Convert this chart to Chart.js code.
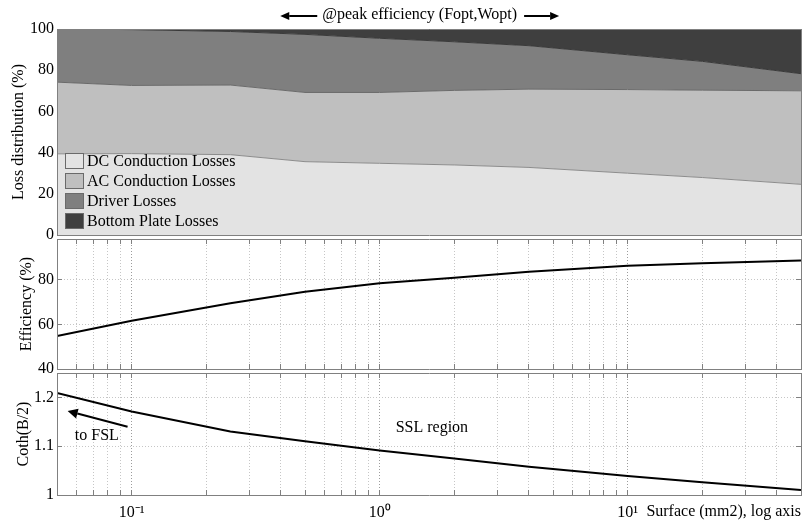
<!DOCTYPE html>
<html lang="en">
<head>
<meta charset="UTF-8">
<title>Loss distribution, efficiency and Coth(B/2) vs surface</title>
<script src="https://cdn.jsdelivr.net/npm/chart.js"></script>
<style>
  body { margin: 0; background: #fff; }
  #wrap { position: relative; width: 805px; height: 521px; }
  #wrap canvas { position: absolute; left: 0; }
</style>
</head>
<body>
<div id="wrap">
  <canvas id="lossChart" style="top:0" width="805" height="250"></canvas>
  <canvas id="effChart" style="top:225px" width="805" height="160"></canvas>
  <canvas id="cothChart" style="top:360px" width="805" height="161"></canvas>
</div>
<script>
// surface (mm2) at each operating point, log axis
const surface = [0.05, 0.1, 0.25, 0.5, 1, 2, 4, 10, 20, 50];

// loss distribution (%), stacked from the bottom
const dcLoss     = [39.4, 39.5, 39.0, 35.6, 34.8, 34.0, 32.8, 30.0, 27.9, 24.6];
const acLoss     = [34.8, 33.1, 33.8, 33.6, 34.4, 36.2, 38.0, 40.6, 42.4, 45.4];
const driverLoss = [25.8, 27.1, 26.0, 28.2, 26.3, 23.6, 21.1, 16.9, 14.0, 8.3];
const plateLoss  = [0.0, 0.3, 1.2, 2.6, 4.5, 6.2, 8.1, 12.5, 15.7, 21.7];
const lossNames  = ['DC Conduction Losses', 'AC Conduction Losses', 'Driver Losses', 'Bottom Plate Losses'];

const efficiency = [54.8, 61.7, 69.5, 74.7, 78.5, 81.0, 83.7, 86.4, 87.5, 88.7];
const cothB2     = [1.209, 1.171, 1.130, 1.110, 1.091, 1.075, 1.058, 1.039, 1.026, 1.010];

// ticks
const xTickValues = [0.05, 0.06, 0.07, 0.08, 0.09, 0.1, 0.2, 0.3, 0.4, 0.5, 0.6, 0.7, 0.8, 0.9,
                     1, 2, 3, 4, 5, 6, 7, 8, 9, 10, 20, 30, 40, 50];
const xTickLabels = { 0.1: '10\u207B\u00B9', 1: '10\u2070', 10: '10\u00B9' };
const lossTicks = [0, 20, 40, 60, 80, 100];
const effTicks  = [40, 60, 80];
const cothTicks = [1, 1.1, 1.2];

Chart.defaults.font.family = '"Liberation Serif", "Times New Roman", serif';
Chart.defaults.font.size = 16;
Chart.defaults.color = '#000';

const FRAME = '#808080';
const serif16 = '16px "Liberation Serif", "Times New Roman", serif';

function pts(arr) { return surface.map((s, i) => ({ x: s, y: arr[i] })); }
function useTicks(values) { return s => { s.ticks = values.map(v => ({ value: v })); }; }
// fixed axis size, and no extra room asked for overhanging labels,
// so the three plot boxes line up exactly
function fixSize(prop, size) {
  return s => {
    s[prop] = size;
    s.paddingTop = s.paddingBottom = s.paddingLeft = s.paddingRight = 0;
  };
}

function xAxis(pos, showLabels, onArea, size) {
  return {
    type: 'logarithmic', position: pos, min: 0.05, max: 50,
    afterBuildTicks: useTicks(xTickValues),
    afterFit: fixSize('height', size),
    ticks: {
      display: showLabels, autoSkip: false, maxRotation: 0, padding: 13,
      callback: v => xTickLabels[v] || ''
    },
    grid: {
      drawOnChartArea: onArea, tickLength: -5, tickColor: FRAME,
      color: c => (c.tick && xTickLabels[c.tick.value]) ? '#9c9c9c' : '#c6c6c6'
    },
    border: { color: FRAME, z: 1, dash: c => c.tick ? [1, 2] : [] }
  };
}

function yAxis(min, max, ticks, onArea, title, titlePad, stacked) {
  return {
    type: 'linear', position: 'left', min: min, max: max, stacked: !!stacked,
    afterBuildTicks: useTicks(ticks),
    afterFit: fixSize('width', 57),
    ticks: { padding: 8, callback: v => String(v) },
    grid: { drawOnChartArea: onArea, tickLength: -5, tickColor: FRAME, color: '#c6c6c6' },
    border: { color: FRAME, z: 1, dash: c => c.tick ? [1, 2] : [] },
    title: { display: true, text: title, padding: { top: titlePad, bottom: 0 } }
  };
}

function yRight(min, max, ticks) {
  return {
    type: 'linear', position: 'right', min: min, max: max,
    afterBuildTicks: useTicks(ticks),
    afterFit: fixSize('width', 0),
    ticks: { display: false },
    grid: { drawOnChartArea: false, tickLength: -5, tickColor: FRAME },
    border: { color: FRAME, z: 1 }
  };
}

function arrow(ctx, x1, y1, x2, y2, len, w) {
  const a = Math.atan2(y2 - y1, x2 - x1), c = Math.cos(a), s = Math.sin(a);
  ctx.strokeStyle = '#000'; ctx.fillStyle = '#000'; ctx.lineWidth = 2;
  ctx.beginPath(); ctx.moveTo(x1, y1); ctx.lineTo(x2 - len * c, y2 - len * s); ctx.stroke();
  ctx.beginPath();
  ctx.moveTo(x2, y2);
  ctx.lineTo(x2 - len * c - w * s, y2 - len * s + w * c);
  ctx.lineTo(x2 - len * c + w * s, y2 - len * s - w * c);
  ctx.closePath(); ctx.fill();
}

// legend drawn inside the loss panel, bottom left
const lossLegend = {
  id: 'lossLegend',
  afterDraw(chart) {
    const ctx = chart.ctx, a = chart.chartArea;
    const x0 = a.left + 8, y0 = a.bottom - 82;
    ctx.save();
    ctx.font = serif16; ctx.textBaseline = 'middle'; ctx.textAlign = 'left';
    chart.data.datasets.forEach((ds, i) => {
      const y = y0 + i * 20;
      ctx.fillStyle = ds.backgroundColor;
      ctx.fillRect(x0, y, 19, 16);
      ctx.strokeStyle = '#6a6a6a'; ctx.lineWidth = 1;
      ctx.strokeRect(x0 + 0.5, y + 0.5, 18, 15);
      ctx.fillStyle = '#000';
      ctx.fillText(ds.label, x0 + 22, y + 8.5);
    });
    ctx.restore();
  }
};

const peakNote = {
  id: 'peakNote',
  afterDraw(chart) {
    const ctx = chart.ctx;
    const cx = chart.scales.x.getPixelForValue(1.45), y = 15;
    const text = '@peak efficiency (Fopt,Wopt)';
    ctx.save();
    ctx.font = serif16; ctx.fillStyle = '#000';
    ctx.textAlign = 'center'; ctx.textBaseline = 'middle';
    ctx.fillText(text, cx, y);
    const half = ctx.measureText(text).width / 2;
    arrow(ctx, cx - half - 5, y + 1, cx - half - 42, y + 1, 9, 4);
    arrow(ctx, cx + half + 7, y + 1, cx + half + 42, y + 1, 9, 4);
    ctx.restore();
  }
};

const cothNotes = {
  id: 'cothNotes',
  afterDraw(chart) {
    const ctx = chart.ctx, xs = chart.scales.x, ys = chart.scales.y;
    ctx.save();
    ctx.font = serif16; ctx.fillStyle = '#000';
    ctx.textAlign = 'left'; ctx.textBaseline = 'middle';
    ctx.fillText('to FSL', xs.getPixelForValue(0.059), ys.getPixelForValue(1.121));
    ctx.fillText('SSL region', xs.getPixelForValue(1.16), ys.getPixelForValue(1.137));
    arrow(ctx, xs.getPixelForValue(0.0963), ys.getPixelForValue(1.140),
               xs.getPixelForValue(0.0552), ys.getPixelForValue(1.172), 10, 5);
    ctx.restore();
  }
};

const common = { responsive: false, animation: false, devicePixelRatio: 1 };

// panel 1: stacked loss distribution
const lossFill = ['#e3e3e3', '#bfbfbf', '#7f7f7f', '#3f3f3f'];
const lossEdge = ['#8c8c8c', '#6a6a6a', '#3a3a3a', '#303030'];
new Chart(document.getElementById('lossChart'), {
  type: 'line',
  data: {
    datasets: [dcLoss, acLoss, driverLoss, plateLoss].map((arr, i) => ({
      label: lossNames[i], data: pts(arr),
      backgroundColor: lossFill[i], borderColor: lossEdge[i], borderWidth: 1,
      fill: i === 0 ? 'origin' : '-1', pointRadius: 0, tension: 0
    }))
  },
  options: Object.assign({}, common, {
    layout: { padding: { top: 29, bottom: 15, left: 0, right: 4 } },
    plugins: { legend: { display: false }, tooltip: { enabled: false } },
    scales: {
      x: xAxis('bottom', false, false, 0),
      x2: xAxis('top', false, false, 0),
      y: yAxis(0, 100, lossTicks, false, 'Loss distribution (%)', 9.4, true),
      y2: yRight(0, 100, lossTicks)
    }
  }),
  plugins: [lossLegend, peakNote]
});

// panel 2: efficiency
new Chart(document.getElementById('effChart'), {
  type: 'line',
  data: {
    datasets: [{
      label: 'Efficiency (%)', data: pts(efficiency),
      borderColor: '#000', borderWidth: 2, pointRadius: 0, fill: false, tension: 0
    }]
  },
  options: Object.assign({}, common, {
    layout: { padding: { top: 14, bottom: 16, left: 0, right: 4 } },
    plugins: { legend: { display: false }, tooltip: { enabled: false } },
    scales: {
      x: xAxis('bottom', false, true, 0),
      x2: xAxis('top', false, false, 0),
      y: yAxis(40, 98.4, effTicks, true, 'Efficiency (%)', 17.4),
      y2: yRight(40, 98.4, effTicks)
    }
  })
});

// panel 3: Coth(B/2)
const cothX = xAxis('bottom', true, true, 26);
cothX.title = { display: true, text: 'Surface (mm2), log axis', align: 'end', padding: { top: 0, bottom: 0 } };
new Chart(document.getElementById('cothChart'), {
  type: 'line',
  data: {
    datasets: [{
      label: 'Coth(B/2)', data: pts(cothB2),
      borderColor: '#000', borderWidth: 2, pointRadius: 0, fill: false, tension: 0
    }]
  },
  options: Object.assign({}, common, {
    layout: { padding: { top: 13, bottom: 0, left: 0, right: 4 } },
    plugins: { legend: { display: false }, tooltip: { enabled: false } },
    scales: {
      x: cothX,
      x2: xAxis('top', false, false, 0),
      y: yAxis(1, 1.25, cothTicks, true, 'Coth(B/2)', 14.4),
      y2: yRight(1, 1.25, cothTicks)
    }
  }),
  plugins: [cothNotes]
});
</script>
</body>
</html>
